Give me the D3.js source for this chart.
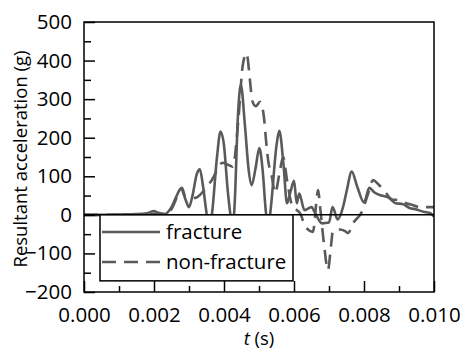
<!doctype html>
<html lang="en">
  <head>
    <meta charset="utf-8">
    <title>Resultant acceleration</title>
    <script src="https://d3js.org/d3.v7.min.js"></script>
    <style>
      body { margin: 0; background: #fff; }
      text { font-family: "Open Sans", sans-serif; fill: #000; }
    </style>
  </head>

  <body>
    <svg width="460" height="348"></svg>

    <script>
      // fracture series: time (s) and acceleration (g)
      var fractureT = [0, 0.0005, 0.0010, 0.0015, 0.0018, 0.0020, 0.0021, 0.0023, 0.0025, 0.00265, 0.00277, 0.0029, 0.0030, 0.0031, 0.00322, 0.00331, 0.0034, 0.0035, 0.00358, 0.00366, 0.0038, 0.0039, 0.0040, 0.0041, 0.0042, 0.00425, 0.0043, 0.0044, 0.00448, 0.0046, 0.0047, 0.00479, 0.0049, 0.00501, 0.0051, 0.0052, 0.00527, 0.00534, 0.0055, 0.00558, 0.0057, 0.0058, 0.0059, 0.0060, 0.00608, 0.00615, 0.0063, 0.0065, 0.0066, 0.0068, 0.0070, 0.0071, 0.00725, 0.0074, 0.0075, 0.00765, 0.0078, 0.0080, 0.00815, 0.0083, 0.0085, 0.0087, 0.0089, 0.0091, 0.0093, 0.0095, 0.0097, 0.0099, 0.0100];
      var fractureG = [0, 0, 1, 2, 4, 10, 6, 2, 20, 50, 68, 40, 20, 50, 105, 118, 75, 5, -40, 5, 150, 216, 180, 70, -10, -30, 20, 260, 337, 230, 120, 77, 120, 173, 120, 5, -30, 20, 180, 218, 130, 30, 60, 88, 30, 55, 12, 20, 5, -22, -20, 20, -12, 20, 60, 112, 75, 32, 70, 58, 50, 45, 30, 28, 18, 14, 8, 4, -5];

      // non-fracture series
      var nonFractureT = [0, 0.0010, 0.0015, 0.0020, 0.0023, 0.0025, 0.0027, 0.0028, 0.0029, 0.00317, 0.0034, 0.00365, 0.00396, 0.00425, 0.00441, 0.00453, 0.00464, 0.00476, 0.0048, 0.00491, 0.00503, 0.00514, 0.0052, 0.00526, 0.00536, 0.00546, 0.0056, 0.00569, 0.0058, 0.00594, 0.0062, 0.00631, 0.00654, 0.00669, 0.00674, 0.00686, 0.00697, 0.00706, 0.00711, 0.0073, 0.00746, 0.00754, 0.0077, 0.00794, 0.0081, 0.00826, 0.0084, 0.0086, 0.0088, 0.0090, 0.0092, 0.0094, 0.0096, 0.0100];
      var nonFractureG = [0, 0, 0, 3, 2, 15, 55, 70, 45, 44, 60, 90, 135, 125, 246, 384, 419, 332, 298, 282, 293, 254, 194, 142, 103, 57, 116, 150, 90, 26, 0, -29, -44, 64, 26, -78, -143, -78, -42, -38, -42, -47, -20, 8, 50, 90, 80, 60, 40, 38, 30, 25, 20, 20];

      var yTicks = [-200, -100, 0, 100, 200, 300, 400, 500];
      var xTicks = [0, 0.002, 0.004, 0.006, 0.008, 0.010];
      var legendLabels = ["fracture", "non-fracture"];

      var svg = d3.select('svg');
      var plotL = 84, plotR = 434, plotT = 22, plotB = 292;
      var lineColor = '#5a5a5a';

      var x = d3.scaleLinear().domain([0, 0.010]).range([plotL, plotR]);
      var y = d3.scaleLinear().domain([-200, 500]).range([plotB, plotT]);

      var series = [
        { name: legendLabels[0], dash: null, data: fractureT.map(function(t, i){ return [t, fractureG[i]]; }) },
        { name: legendLabels[1], dash: '14,8', data: nonFractureT.map(function(t, i){ return [t, nonFractureG[i]]; }) }
      ];

      svg.append('clipPath').attr('id', 'plot')
        .append('rect').attr('x', plotL).attr('y', plotT).attr('width', plotR - plotL).attr('height', plotB - plotT);

      var line = d3.line()
          .x(function(d){ return x(d[0]); })
          .y(function(d){ return y(d[1]); })
          .curve(d3.curveMonotoneX);

      // draw dashed first so solid sits on top
      svg.append('g').attr('clip-path', 'url(#plot)')
        .selectAll('path').data(series.slice().reverse()).enter()
        .append('path')
          .attr('d', function(d){ return line(d.data); })
          .attr('fill', 'none')
          .attr('stroke', lineColor)
          .attr('stroke-width', 2.6)
          .attr('stroke-dasharray', function(d){ return d.dash; });

      // zero line
      svg.append('line')
        .attr('x1', plotL).attr('x2', plotR)
        .attr('y1', y(0)).attr('y2', y(0))
        .attr('stroke', '#000').attr('stroke-width', 1.5);

      // axes with inward ticks
      var yAxis = svg.append('g').attr('transform', 'translate(' + plotL + ',0)')
        .call(d3.axisLeft(y).tickValues(yTicks).tickSizeInner(-11).tickSizeOuter(0).tickPadding(12).tickFormat(d3.format('d')));
      svg.append('g').attr('transform', 'translate(' + plotL + ',0)')
        .call(d3.axisLeft(y).tickValues(d3.range(-150, 500, 100)).tickSizeInner(-7).tickSizeOuter(0).tickFormat(''));

      var xAxis = svg.append('g').attr('transform', 'translate(0,' + plotB + ')')
        .call(d3.axisBottom(x).tickValues(xTicks).tickSizeInner(-11).tickSizeOuter(0).tickPadding(15).tickFormat(d3.format('.3f')));
      svg.append('g').attr('transform', 'translate(0,' + plotB + ')')
        .call(d3.axisBottom(x).tickValues([0.001, 0.003, 0.005, 0.007, 0.009]).tickSizeInner(-6).tickSizeOuter(0).tickFormat(''));

      svg.selectAll('.domain').remove();
      svg.selectAll('.tick line').attr('stroke', '#000').attr('stroke-width', 1.5);
      yAxis.selectAll('text').attr('font-size', 20.5).attr('font-family', '"Open Sans", sans-serif');
      xAxis.selectAll('text').attr('font-size', 20.5).attr('font-family', '"Open Sans", sans-serif');

      // frame
      svg.append('rect')
        .attr('x', plotL).attr('y', plotT).attr('width', plotR - plotL).attr('height', plotB - plotT)
        .attr('fill', 'none').attr('stroke', '#000').attr('stroke-width', 1.5);

      // axis titles
      svg.append('text')
        .attr('transform', 'translate(27,' + ((plotT + plotB) / 2 + 2) + ') rotate(-90)')
        .attr('text-anchor', 'middle')
        .attr('font-size', 18.5)
        .text('Resultant acceleration (g)');

      var xt = svg.append('text')
        .attr('x', (plotL + plotR) / 2)
        .attr('y', 345)
        .attr('text-anchor', 'middle')
        .attr('font-size', 18.5);
      xt.append('tspan').attr('font-style', 'italic').text('t');
      xt.append('tspan').text(' (s)');

      // legend
      var legend = svg.append('g');
      legend.append('rect')
        .attr('x', 100).attr('y', y(0)).attr('width', 193).attr('height', 66)
        .attr('fill', '#fff').attr('stroke', '#000').attr('stroke-width', 1.5);

      var items = legend.selectAll('g.item').data(series).enter()
        .append('g').attr('class', 'item')
        .attr('transform', function(d, i){ return 'translate(0,' + (232 + i * 30) + ')'; });
      items.append('line')
        .attr('x1', 102).attr('x2', 160)
        .attr('stroke', lineColor).attr('stroke-width', 2.6)
        .attr('stroke-dasharray', function(d){ return d.dash; });
      items.append('text')
        .attr('x', 166).attr('dy', '0.33em')
        .attr('font-size', 20.5)
        .text(function(d){ return d.name; });
    </script>
  </body>
</html>
